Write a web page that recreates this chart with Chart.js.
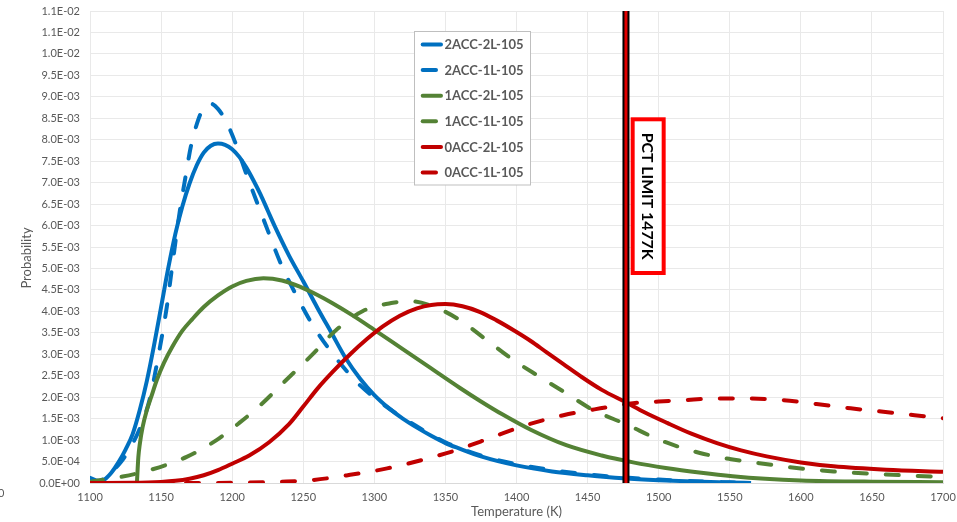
<!DOCTYPE html>
<html>
<head>
<meta charset="utf-8">
<title>PCT probability</title>
<script src="https://cdn.jsdelivr.net/npm/chart.js@4.4.0/dist/chart.umd.min.js"></script>
<style>
  html, body { margin: 0; padding: 0; background: #fff; }
  #wrap { width: 957px; height: 522px; }
</style>
</head>
<body>
<div id="wrap"><canvas id="pctChart" width="957" height="522"></canvas></div>
<script>
// ========================================
// DATA
// ========================================
const seriesLabels = ['2ACC-2L-105', '2ACC-1L-105', '1ACC-2L-105', '1ACC-1L-105', '0ACC-2L-105', '0ACC-1L-105'];

// 2ACC-2L-105 (solid blue)
const temp2acc2l = [1100, 1105, 1110, 1115, 1120, 1125, 1130, 1135, 1140, 1145, 1150, 1155, 1160, 1165, 1170, 1175, 1180, 1185, 1190, 1195, 1200, 1205, 1210, 1215, 1220, 1225, 1230, 1240, 1250, 1260, 1270, 1280, 1290, 1300, 1310, 1320, 1330, 1340, 1350, 1360, 1375, 1400, 1425, 1450, 1475, 1500, 1525, 1550, 1565];
const prob2acc2l = [0.06e-3, 0.04e-3, 0.08e-3, 0.24e-3, 0.48e-3, 0.78e-3, 1.14e-3, 1.7e-3, 2.38e-3, 3.2e-3, 4.1e-3, 5.0e-3, 5.8e-3, 6.45e-3, 6.98e-3, 7.4e-3, 7.7e-3, 7.86e-3, 7.91e-3, 7.88e-3, 7.78e-3, 7.6e-3, 7.35e-3, 7.05e-3, 6.72e-3, 6.35e-3, 5.98e-3, 5.3e-3, 4.7e-3, 4.08e-3, 3.49e-3, 2.9e-3, 2.43e-3, 2.05e-3, 1.75e-3, 1.5e-3, 1.29e-3, 1.1e-3, 0.93e-3, 0.8e-3, 0.62e-3, 0.41e-3, 0.27e-3, 0.18e-3, 0.11e-3, 0.065e-3, 0.035e-3, 0.012e-3, 0];

// 2ACC-1L-105 (dashed blue)
const temp2acc1l = [1100, 1106, 1114, 1122, 1130, 1136, 1142, 1148, 1154, 1158, 1163, 1167, 1171, 1176, 1180, 1185, 1190, 1196, 1202, 1210, 1222, 1235, 1245, 1257, 1271, 1288, 1306, 1320, 1335, 1350, 1375, 1400, 1425, 1450, 1475, 1500, 1525, 1550, 1565];
const prob2acc1l = [0.12e-3, 0.05e-3, 0.23e-3, 0.5e-3, 0.92e-3, 1.35e-3, 1.95e-3, 2.95e-3, 4.1e-3, 5.1e-3, 6.3e-3, 7.1e-3, 7.85e-3, 8.45e-3, 8.75e-3, 8.84e-3, 8.72e-3, 8.41e-3, 7.95e-3, 7.2e-3, 6.15e-3, 5.05e-3, 4.38e-3, 3.66e-3, 3.0e-3, 2.34e-3, 1.84e-3, 1.52e-3, 1.22e-3, 0.95e-3, 0.64e-3, 0.44e-3, 0.3e-3, 0.2e-3, 0.13e-3, 0.08e-3, 0.04e-3, 0.015e-3, 0];

// 1ACC-2L-105 (solid green)
const temp1acc2l = [1133, 1134, 1135, 1137, 1140, 1143, 1147, 1152, 1158, 1165, 1172, 1180, 1190, 1200, 1210, 1222, 1235, 1248, 1260, 1270, 1285, 1300, 1320, 1340, 1360, 1375, 1390, 1410, 1435, 1460, 1482, 1505, 1530, 1552, 1575, 1600, 1650, 1700];
const prob1acc2l = [0, 0.6e-3, 0.9e-3, 1.3e-3, 1.7e-3, 2.0e-3, 2.4e-3, 2.8e-3, 3.18e-3, 3.55e-3, 3.82e-3, 4.1e-3, 4.37e-3, 4.58e-3, 4.71e-3, 4.77e-3, 4.72e-3, 4.57e-3, 4.38e-3, 4.2e-3, 3.9e-3, 3.57e-3, 3.12e-3, 2.67e-3, 2.22e-3, 1.9e-3, 1.6e-3, 1.24e-3, 0.88e-3, 0.64e-3, 0.48e-3, 0.35e-3, 0.24e-3, 0.16e-3, 0.1e-3, 0.06e-3, 0.03e-3, 0.02e-3];

// 1ACC-1L-105 (dashed green)
const temp1acc1l = [1100, 1110, 1123, 1142, 1168, 1189, 1205, 1220, 1238, 1256, 1273, 1292, 1313, 1325, 1341, 1360, 1379, 1398, 1416, 1435, 1454, 1477, 1501, 1529, 1550, 1571, 1597, 1623, 1660, 1700];
const prob1acc1l = [0.03e-3, 0.08e-3, 0.15e-3, 0.3e-3, 0.61e-3, 1.0e-3, 1.4e-3, 1.82e-3, 2.4e-3, 2.98e-3, 3.56e-3, 4.01e-3, 4.2e-3, 4.24e-3, 4.12e-3, 3.8e-3, 3.33e-3, 2.86e-3, 2.48e-3, 2.09e-3, 1.7e-3, 1.37e-3, 1.0e-3, 0.7e-3, 0.56e-3, 0.46e-3, 0.35e-3, 0.27e-3, 0.2e-3, 0.14e-3];

// 0ACC-2L-105 (solid red)
const temp0acc2l = [1100, 1130, 1150, 1160, 1170, 1180, 1190, 1200, 1212, 1226, 1240, 1250, 1260, 1271, 1283, 1295, 1306, 1318, 1330, 1340, 1350, 1362, 1374, 1386, 1398, 1410, 1421, 1433, 1445, 1460, 1477, 1490, 1506, 1523, 1541, 1558, 1576, 1600, 1623, 1660, 1700];
const prob0acc2l = [0, 0.005e-3, 0.025e-3, 0.05e-3, 0.1e-3, 0.18e-3, 0.3e-3, 0.45e-3, 0.64e-3, 0.95e-3, 1.37e-3, 1.78e-3, 2.2e-3, 2.6e-3, 3.0e-3, 3.36e-3, 3.65e-3, 3.9e-3, 4.07e-3, 4.15e-3, 4.17e-3, 4.12e-3, 3.99e-3, 3.79e-3, 3.56e-3, 3.31e-3, 3.05e-3, 2.77e-3, 2.49e-3, 2.17e-3, 1.88e-3, 1.65e-3, 1.4e-3, 1.15e-3, 0.93e-3, 0.76e-3, 0.62e-3, 0.48e-3, 0.39e-3, 0.31e-3, 0.26e-3];

// 0ACC-1L-105 (dashed red)
const temp0acc1l = [1100, 1180, 1210, 1235, 1257, 1283, 1309, 1334, 1358, 1384, 1407, 1433, 1459, 1482, 1500, 1517, 1541, 1560, 1588, 1611, 1635, 1658, 1680, 1700];
const prob0acc1l = [0, 0, 0.01e-3, 0.03e-3, 0.07e-3, 0.19e-3, 0.34e-3, 0.54e-3, 0.77e-3, 1.08e-3, 1.35e-3, 1.58e-3, 1.74e-3, 1.86e-3, 1.9e-3, 1.93e-3, 1.97e-3, 1.97e-3, 1.93e-3, 1.84e-3, 1.74e-3, 1.66e-3, 1.58e-3, 1.51e-3];

// PCT limit
const pctLimit = 1477;
const pctLabel = 'PCT LIMIT 1477K';

// Tick labels as printed on the axes
const xTickLabels = ['1100', '1150', '1200', '1250', '1300', '1350', '1400', '1450', '1500', '1550', '1600', '1650', '1700'];
const yTickLabels = ['0.0E+00', '5.0E-04', '1.0E-03', '1.5E-03', '2.0E-03', '2.5E-03', '3.0E-03', '3.5E-03', '4.0E-03', '4.5E-03', '5.0E-03', '5.5E-03', '6.0E-03', '6.5E-03', '7.0E-03', '7.5E-03', '8.0E-03', '8.5E-03', '9.0E-03', '9.5E-03', '1.0E-02', '1.1E-02', '1.1E-02'];

// ========================================
// STYLE
// ========================================
const BLUE = '#0070C0';
const GREEN = '#548235';
const RED = '#C00000';
const TEXT_GRAY = '#595959';
const GRID_GRAY = '#e9e9e9';
const DASH = [13, 19];

Chart.defaults.font.family = 'Lato, "Open Sans", sans-serif';
Chart.defaults.color = TEXT_GRAY;

// Zip x and y arrays into Chart.js points
function toPoints(xs, ys) {
  return xs.map((x, i) => ({ x: x, y: ys[i] }));
}

function curve(label, xs, ys, color, dashed, order) {
  return {
    label: label,
    data: toPoints(xs, ys),
    borderColor: color,
    backgroundColor: color,
    borderWidth: 4,
    borderDash: dashed ? DASH : [],
    borderCapStyle: dashed ? 'round' : 'butt',
    pointRadius: 0,
    cubicInterpolationMode: 'monotone',
    order: order,
    isCurve: true,
    dashed: dashed
  };
}

// ========================================
// PLUGIN: legend box, PCT label, y title
// ========================================
const annotationsPlugin = {
  id: 'pctAnnotations',
  afterDraw(chart) {
    const ctx = chart.ctx;
    const xScale = chart.scales.x;

    ctx.save();

    // Stray axis text at the far left edge
    ctx.fillStyle = TEXT_GRAY;
    ctx.font = '11px Lato';
    ctx.textAlign = 'left';
    ctx.textBaseline = 'middle';
    ctx.fillText('0', -2, 493);

    // Y axis title
    ctx.save();
    ctx.translate(27, 258);
    ctx.rotate(-Math.PI / 2);
    ctx.font = '13px Lato';
    ctx.textAlign = 'center';
    ctx.fillText('Probability', 0, 0);
    ctx.restore();

    // Legend box
    const lx = 414.5, ly = 31.5, lw = 116, lh = 153.5;
    ctx.fillStyle = '#ffffff';
    ctx.fillRect(lx, ly, lw, lh);
    ctx.strokeStyle = '#bfbfbf';
    ctx.lineWidth = 1;
    ctx.strokeRect(lx, ly, lw, lh);

    const curves = chart.data.datasets.filter(d => d.isCurve);
    ctx.font = 'bold 13px Lato';
    ctx.textAlign = 'left';
    ctx.textBaseline = 'middle';
    curves.forEach((d, i) => {
      const y = 44.5 + i * 25.6;
      ctx.strokeStyle = d.borderColor;
      ctx.lineWidth = 4;
      ctx.lineCap = 'round';
      ctx.beginPath();
      ctx.moveTo(422.7, y);
      ctx.lineTo(d.dashed ? 436 : 441, y);
      ctx.stroke();
      ctx.fillStyle = TEXT_GRAY;
      ctx.fillText(d.label, 444.5, y + 0.5);
    });

    // PCT limit label box, next to the limit line
    const px = xScale.getPixelForValue(pctLimit);
    const bx = px + 6.7, by = 119.3, bw = 31, bh = 153.7;
    ctx.fillStyle = '#ffffff';
    ctx.fillRect(bx, by, bw, bh);
    ctx.strokeStyle = '#ff0000';
    ctx.lineWidth = 4;
    ctx.lineCap = 'butt';
    ctx.strokeRect(bx, by, bw, bh);

    ctx.save();
    ctx.translate(bx + bw / 2, by + bh / 2);
    ctx.rotate(Math.PI / 2);
    ctx.font = 'bold 16px Lato';
    const w = ctx.measureText(pctLabel).width;
    const size = 16 * 127 / w;
    ctx.font = 'bold ' + size.toFixed(1) + 'px Lato';
    ctx.fillStyle = '#000000';
    ctx.textAlign = 'center';
    ctx.textBaseline = 'middle';
    ctx.fillText(pctLabel, 0, 1);
    ctx.restore();

    ctx.restore();
  }
};

// ========================================
// CHART
// ========================================
const datasets = [
  curve(seriesLabels[0], temp2acc2l, prob2acc2l, BLUE, false, 6),
  curve(seriesLabels[1], temp2acc1l, prob2acc1l, BLUE, true, 5),
  curve(seriesLabels[2], temp1acc2l, prob1acc2l, GREEN, false, 4),
  curve(seriesLabels[3], temp1acc1l, prob1acc1l, GREEN, true, 3),
  curve(seriesLabels[4], temp0acc2l, prob0acc2l, RED, false, 2),
  curve(seriesLabels[5], temp0acc1l, prob0acc1l, RED, true, 1),
  {
    label: 'limit-outer',
    data: [{ x: pctLimit, y: 0 }, { x: pctLimit, y: 0.011 }],
    borderColor: '#000000',
    borderWidth: 7,
    pointRadius: 0,
    order: -1
  },
  {
    label: 'limit-inner',
    data: [{ x: pctLimit, y: 0 }, { x: pctLimit, y: 0.011 }],
    borderColor: '#e00000',
    borderWidth: 3,
    pointRadius: 0,
    order: -2
  }
];

new Chart(document.getElementById('pctChart'), {
  type: 'line',
  data: { datasets: datasets },
  options: {
    responsive: false,
    animation: false,
    layout: { padding: { left: 0, right: 14, top: 11, bottom: 0 } },
    plugins: {
      legend: { display: false },
      tooltip: { enabled: false }
    },
    scales: {
      x: {
        type: 'linear',
        min: 1100,
        max: 1700,
        ticks: {
          stepSize: 50,
          padding: 8,
          autoSkip: false,
          maxRotation: 0,
          font: { size: 11 },
          callback: (value, index) => xTickLabels[index]
        },
        grid: { color: GRID_GRAY, drawTicks: false },
        border: { display: true, color: '#d9d9d9' },
        title: {
          display: true,
          text: 'Temperature (K)',
          font: { size: 13 },
          padding: { top: 0, bottom: 2 }
        },
        afterFit: (scale) => {
          scale.height = 39;
          scale.paddingLeft = 0;
          scale.paddingRight = 0;
        }
      },
      y: {
        type: 'linear',
        min: 0,
        max: 0.011,
        ticks: {
          stepSize: 0.0005,
          padding: 10,
          autoSkip: false,
          font: { size: 11 },
          callback: (value, index) => yTickLabels[index]
        },
        grid: { color: GRID_GRAY, drawTicks: false },
        border: { display: false },
        afterFit: (scale) => {
          scale.width = 90;
          scale.paddingTop = 0;
          scale.paddingBottom = 0;
        }
      }
    }
  },
  plugins: [annotationsPlugin]
});
</script>
</body>
</html>
